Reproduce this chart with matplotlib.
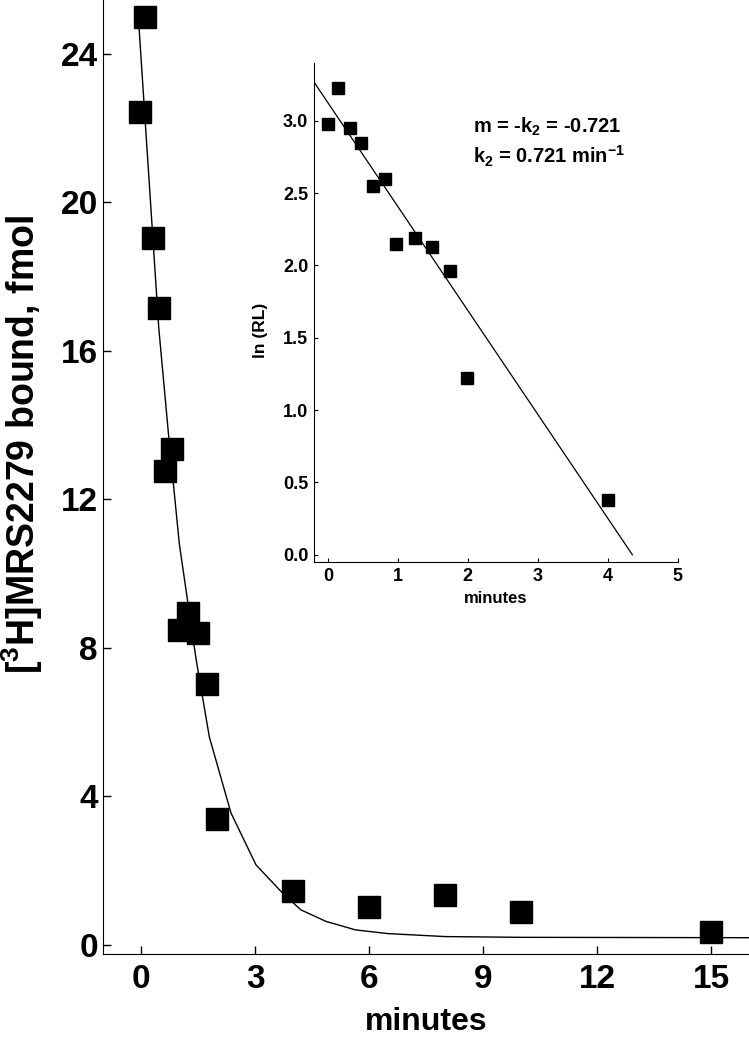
import matplotlib
matplotlib.use('Agg')
import matplotlib.pyplot as plt

plt.rcParams['font.family'] = ['Liberation Sans', 'DejaVu Sans']
plt.rcParams['font.weight'] = 'bold'
plt.rcParams['mathtext.fontset'] = 'custom'
plt.rcParams['mathtext.rm'] = 'Liberation Sans:bold'
plt.rcParams['mathtext.bf'] = 'Liberation Sans:bold'
plt.rcParams['mathtext.default'] = 'bf'

# main panel: dissociation time course
time_min = [0.09, -0.04, 0.30, 0.46, 0.63, 0.80, 0.98, 1.22, 1.50, 1.73, 1.99, 4.0, 6.0, 8.0, 10.0, 15.0]
bound_fmol = [25.0, 22.43, 19.04, 17.15, 12.77, 13.36, 8.48, 8.93, 8.39, 7.03, 3.39, 1.46, 1.03, 1.35, 0.88, 0.33]

# fitted decay curve
curve_t = [-0.06, 0.46, 0.72, 1.0, 1.44, 1.79, 2.36, 3.02, 3.72, 4.20, 4.86, 5.64, 6.5, 8.0, 10.0, 16.0]
curve_y = [24.7, 16.6, 13.7, 10.8, 7.7, 5.6, 3.55, 2.15, 1.39, 0.94, 0.63, 0.40, 0.30, 0.22, 0.20, 0.19]

# inset: ln(RL) vs time
inset_t = [0.0, 0.15, 0.32, 0.48, 0.65, 0.82, 0.98, 1.24, 1.49, 1.74, 1.99, 4.0]
inset_ln = [2.98, 3.23, 2.95, 2.85, 2.55, 2.60, 2.15, 2.19, 2.13, 1.96, 1.22, 0.38]
fit_x = [-0.2, 4.35]
fit_y = [3.27, 0.0]

fig = plt.figure(figsize=(7.49, 10.5), dpi=100)
ax = fig.add_axes([0.138, 0.0914, 0.862, 0.9086])

ax.plot(curve_t, curve_y, color='black', linewidth=1.0)
ax.plot(time_min, bound_fmol, linestyle='none', marker='s', markersize=15.5,
        color='black', clip_on=False)

ax.set_xlim(-1, 16)
ax.set_ylim(-0.25, 25.45)
ax.set_xticks([0, 3, 6, 9, 12, 15])
ax.set_yticks([0, 4, 8, 12, 16, 20, 24])
ax.spines['top'].set_visible(False)
ax.spines['right'].set_visible(False)
ax.tick_params(direction='in', length=6, width=1, labelsize=24)
ax.tick_params(axis='y', pad=4)
ax.tick_params(axis='x', pad=7)
for lab in ax.get_xticklabels() + ax.get_yticklabels():
    lab.set_fontweight('bold')
ax.set_xlabel('minutes', fontsize=23, fontweight='bold', labelpad=9)
ax.set_ylabel(r'[$^{3}$H]MRS2279 bound, fmol', fontsize=27, fontweight='bold')
ax.yaxis.set_label_coords(-0.09, 0.534)

# inset
ins = fig.add_axes([0.419, 0.4648, 0.486, 0.4752])
ins.plot(fit_x, fit_y, color='black', linewidth=0.9)
ins.plot(inset_t, inset_ln, linestyle='none', marker='s', markersize=8.5, color='black')
ins.set_xlim(-0.2, 5)
ins.set_ylim(-0.05, 3.4)
ins.set_xticks([0, 1, 2, 3, 4, 5])
ins.set_yticks([0.0, 0.5, 1.0, 1.5, 2.0, 2.5, 3.0])
ins.set_yticklabels(['0.0', '0.5', '1.0', '1.5', '2.0', '2.5', '3.0'])
ins.spines['top'].set_visible(False)
ins.spines['right'].set_visible(False)
ins.tick_params(direction='in', length=3, width=0.8, labelsize=13, pad=4)
for lab in ins.get_xticklabels() + ins.get_yticklabels():
    lab.set_fontweight('bold')
ins.set_xlabel('minutes', fontsize=12, fontweight='bold', labelpad=5)
ins.set_ylabel('ln (RL)', fontsize=12.5, fontweight='bold')
ins.yaxis.set_label_coords(-0.125, 0.465)
ins.text(0.437, 0.872, r'm = -k$_{2}$ = -0.721', transform=ins.transAxes,
         fontsize=14.5, fontweight='bold', va='center')
ins.text(0.437, 0.812, r'k$_{2}$ = 0.721 min$^{-1}$', transform=ins.transAxes,
         fontsize=14.5, fontweight='bold', va='center')

fig.savefig('out.png', dpi=100)
